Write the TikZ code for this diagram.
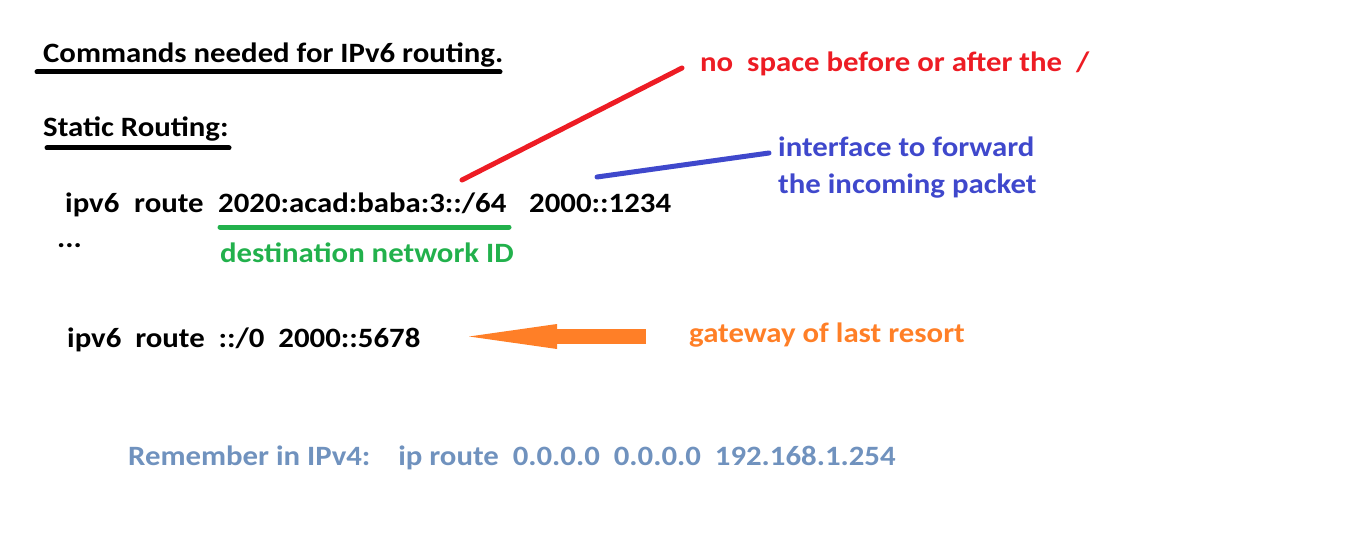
\documentclass[tikz,border=0pt]{standalone}
\usepackage{fontspec}
\setmainfont{Carlito}[FakeStretch=1.1]
\usetikzlibrary{positioning,arrows.meta}

\definecolor{noteRed}{HTML}{ED1C24}
\definecolor{noteGreen}{HTML}{22B14C}
\definecolor{noteBlue}{HTML}{3F48CC}
\definecolor{noteOrange}{HTML}{FF7F27}
\definecolor{noteSlate}{HTML}{7092BE}

\tikzset{
  txt/.style={inner sep=0pt, anchor=base west, font=\fontsize{28}{34}\selectfont\bfseries},
  pen/.style={line width=5pt, line cap=round}
}

\begin{document}
\begin{tikzpicture}[x=1pt,y=-1pt]
\useasboundingbox (0,0) rectangle (1354,556);

% Headings
\node[txt] (title) at (43,63) {Commands needed for IPv6 routing.};
\node[txt] (static) at (43,137) {Static Routing:};
\draw[pen] (37,72) -- (500,72); % title underline
\draw[pen] (47,148) -- (229,148); % static underline

% First route command
\node[txt] (ipv6a) at (65,212) {ipv6};
\node[txt] (routea) at (134,212) {route};
\node[txt] (addr) at (218,212) {2020:acad:baba:3::/64};
\node[txt] (hop) at (529,212) {2000::1234};
\node[txt] (dots) at (57,247) {...};

% Notes of the first command
\node[txt, text=noteGreen] (dest) at (220,262) {destination network ID};
\node[txt, text=noteRed] (nospace) at (700,72) {no\ \ space before or after the\ \ /};
\node[txt, text=noteBlue] (iface) at (778,157) {interface to forward};
\node[txt, text=noteBlue] (iface2) at (778,194) {the incoming packet};

\coordinate (slash) at (462,180);
\coordinate (hoptop) at (597,177);
\draw[pen, noteGreen] (220,227) -- (509,227);
\draw[pen, noteRed] (slash) -- (682,68);
\draw[pen, noteBlue] (hoptop) -- (769,153);

% Default route
\node[txt] (ipv6b) at (67,347) {ipv6\ \ route\ \ ::/0\ \ 2000::5678};
\node[txt, text=noteOrange] (gateway) at (689,342) {gateway of last resort};
\coordinate (arrtail) at (646,336.5);
\coordinate (arrtip) at (469,336.5);
\draw[noteOrange, line width=15pt, -{Triangle[length=88pt, width=25pt, line width=0pt]}] (arrtail) -- (arrtip);

% Reminder
\node[txt, text=noteSlate] (ipv4) at (128,465) {Remember in IPv4:\ \ \ \ ip route\ \ 0.0.0.0\ \ 0.0.0.0\ \ 192.168.1.254};

\end{tikzpicture}
\end{document}
